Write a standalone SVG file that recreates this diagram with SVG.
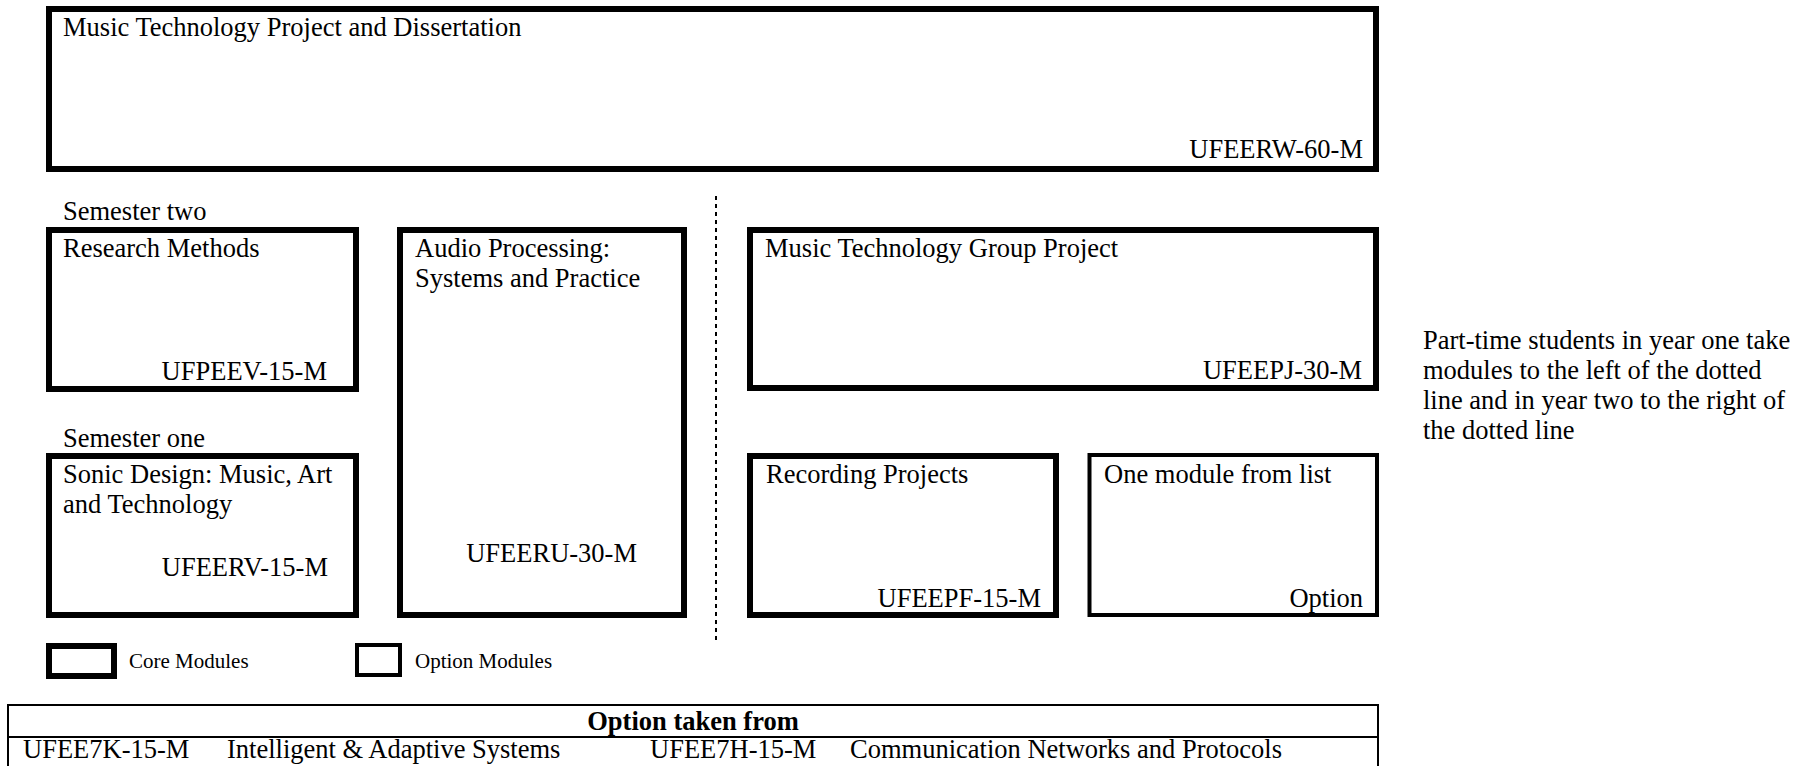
<svg xmlns="http://www.w3.org/2000/svg" width="1809" height="766" viewBox="0 0 1809 766">
  <style>
    text { font-family: "Liberation Serif", "Times New Roman", serif; font-size: 26.5px; fill: #000; }
    .core { fill: #fff; stroke: #000; stroke-width: 6; }
    .opt { fill: #fff; stroke: #000; stroke-width: 4; }
    .end { text-anchor: end; }
    .legend { font-size: 21px; }
    .tbl { fill: none; stroke: #000; stroke-width: 2; }
    .hdr { font-weight: bold; text-anchor: middle; }
  </style>
  <rect width="1809" height="766" fill="#fff"/>

  <g id="dissertation">
    <rect class="core" x="49" y="9" width="1327" height="160"/>
    <text x="63" y="36">Music Technology Project and Dissertation</text>
    <text class="end" x="1363" y="158">UFEERW-60-M</text>
  </g>

  <g id="semester-labels">
    <text x="63" y="220">Semester two</text>
    <text x="63" y="447">Semester one</text>
  </g>

  <g id="research-methods">
    <rect class="core" x="49" y="230" width="307" height="159"/>
    <text x="63" y="257">Research Methods</text>
    <text class="end" x="327" y="380">UFPEEV-15-M</text>
  </g>

  <g id="audio-processing">
    <rect class="core" x="400" y="230" width="284" height="385"/>
    <text x="415" y="257">Audio Processing:</text>
    <text x="415" y="287">Systems and Practice</text>
    <text class="end" x="637" y="562">UFEERU-30-M</text>
  </g>

  <g id="sonic-design">
    <rect class="core" x="49" y="456" width="307" height="159"/>
    <text x="63" y="483">Sonic Design: Music, Art</text>
    <text x="63" y="513">and Technology</text>
    <text class="end" x="328" y="576">UFEERV-15-M</text>
  </g>

  <g id="connectors">
    <line x1="716" y1="196" x2="716" y2="643" stroke="#000" stroke-width="2" stroke-dasharray="4 4"/>
  </g>

  <g id="group-project">
    <rect class="core" x="750" y="230" width="626" height="158"/>
    <text x="765" y="257">Music Technology Group Project</text>
    <text class="end" x="1362" y="379">UFEEPJ-30-M</text>
  </g>

  <g id="recording-projects">
    <rect class="core" x="750" y="456" width="306" height="159"/>
    <text x="766" y="483">Recording Projects</text>
    <text class="end" x="1041" y="607">UFEEPF-15-M</text>
  </g>

  <g id="option-module">
    <rect class="opt" x="1089.5" y="455" width="287.5" height="160"/>
    <text x="1104" y="483">One module from list</text>
    <text class="end" x="1363" y="607">Option</text>
  </g>

  <g id="note">
    <text x="1423" y="349">Part-time students in year one take</text>
    <text x="1423" y="379">modules to the left of the dotted</text>
    <text x="1423" y="409">line and in year two to the right of</text>
    <text x="1423" y="439">the dotted line</text>
  </g>

  <g id="legend">
    <rect class="core" x="49" y="646" width="65" height="30"/>
    <text class="legend" x="129" y="668">Core Modules</text>
    <rect class="opt" x="357" y="645" width="43" height="30"/>
    <text class="legend" x="415" y="668">Option Modules</text>
  </g>

  <g id="option-table">
    <rect class="tbl" x="8" y="705" width="1370" height="70"/>
    <line class="tbl" x1="8" y1="737" x2="1378" y2="737"/>
    <text class="hdr" x="693" y="730">Option taken from</text>
    <text x="23" y="758">UFEE7K-15-M</text>
    <text x="227" y="758">Intelligent &amp; Adaptive Systems</text>
    <text x="650" y="758">UFEE7H-15-M</text>
    <text x="850" y="758">Communication Networks and Protocols</text>
  </g>
</svg>
